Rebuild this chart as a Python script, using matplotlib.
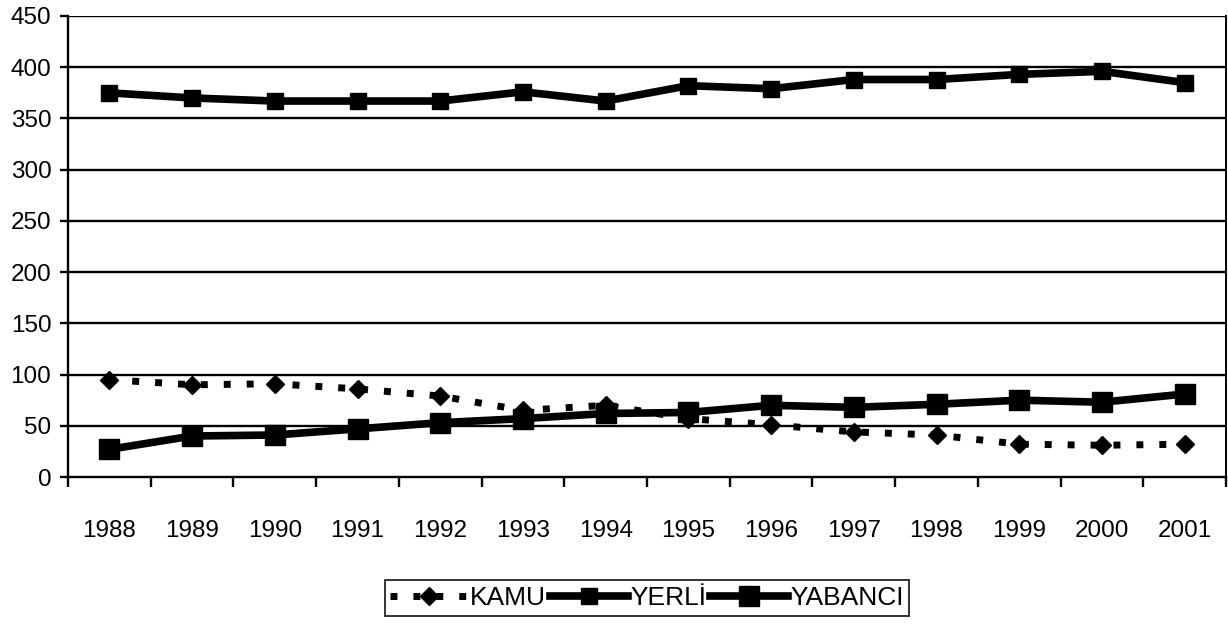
import matplotlib.pyplot as plt
from matplotlib.ticker import FixedLocator

plt.rcParams['font.family'] = ['Liberation Sans', 'DejaVu Sans']

years = ['1988', '1989', '1990', '1991', '1992', '1993', '1994',
         '1995', '1996', '1997', '1998', '1999', '2000', '2001']
kamu = [95, 90, 91, 86, 79, 65, 70, 57, 51, 44, 41, 32, 31, 32]
yerli = [375, 370, 367, 367, 367, 376, 367, 382, 379, 388, 388, 393, 396, 385]
yabanci = [27, 40, 41, 47, 53, 57, 62, 63, 70, 68, 71, 75, 73, 81]
yticks = [0, 50, 100, 150, 200, 250, 300, 350, 400, 450]

fig = plt.figure(figsize=(12.28, 6.25), dpi=100)
ax = fig.add_axes([68 / 1228, 1 - 477 / 625, (1226 - 68) / 1228, 461 / 625])

x = list(range(len(years)))

# gridlines
for v in yticks[1:]:
    ax.axhline(v, color='black', lw=1.7, zorder=1)

ax.plot(x, kamu, color='black', lw=5, linestyle=(0, (1, 2.3)),
        dash_capstyle='butt', marker='D', markersize=9, label='KAMU', zorder=3)
ax.plot(x, yerli, color='black', lw=5.5, marker='s', markersize=11,
        label='YERLİ', zorder=3)
ax.plot(x, yabanci, color='black', lw=5.5, marker='s', markersize=15,
        label='YABANCI', zorder=4)

ax.set_xlim(-0.5, len(years) - 0.5)
ax.set_ylim(0, 450)
ax.set_yticks(yticks)
ax.set_xticks(x)
ax.set_xticklabels(years)
ax.xaxis.set_minor_locator(FixedLocator([i - 0.5 for i in range(len(years) + 1)]))

ax.tick_params(axis='y', labelsize=17.5, length=6, width=1.7, direction='out', pad=6)
ax.tick_params(axis='x', which='major', labelsize=17.5, length=0, pad=31)
ax.tick_params(axis='x', which='minor', length=7, width=1.7, direction='out')

for side in ['left', 'bottom']:
    ax.spines[side].set_linewidth(1.7)
ax.spines['top'].set_visible(False)
ax.spines['right'].set_linewidth(1.4)

leg = fig.legend(loc='center', bbox_to_anchor=(647 / 1228, 1 - 598 / 625), ncol=3,
                 fontsize=19, frameon=True, fancybox=False, edgecolor='black',
                 handlelength=2.95, handletextpad=0.08, columnspacing=0.15,
                 borderpad=0.22, borderaxespad=0)
leg.get_frame().set_linewidth(1.4)

fig.savefig('out.png', dpi=100)
